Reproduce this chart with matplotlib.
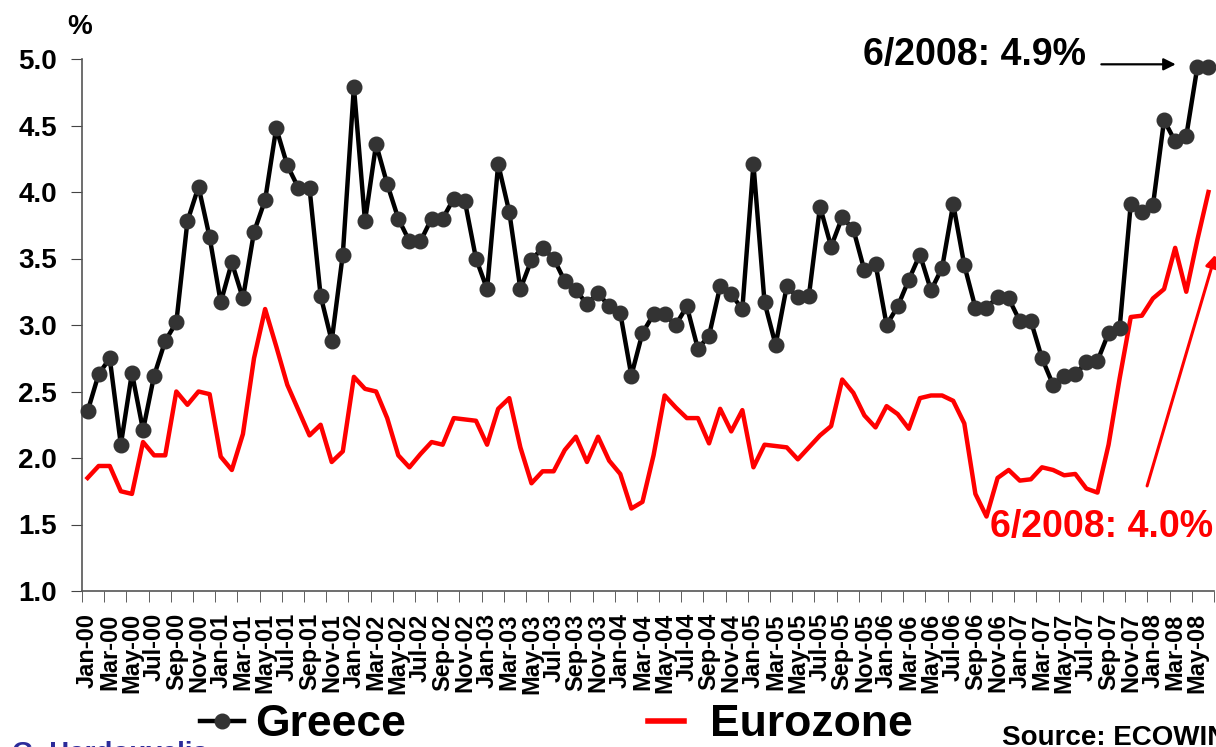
import matplotlib
matplotlib.use("Agg")
import matplotlib.pyplot as plt
from matplotlib.lines import Line2D
import numpy as np

plt.rcParams['font.family'] = ['Liberation Sans', 'DejaVu Sans']

greece = [2.35, 2.63, 2.75, 2.10, 2.64, 2.21, 2.62, 2.88, 3.02, 3.78, 4.04, 3.66,
          3.17, 3.47, 3.20, 3.70, 3.94, 4.48, 4.20, 4.03, 4.03, 3.22, 2.88, 3.53,
          4.79, 3.78, 4.36, 4.06, 3.80, 3.63, 3.63, 3.80, 3.80, 3.95, 3.93, 3.50,
          3.27, 4.21, 3.85, 3.27, 3.49, 3.58, 3.50, 3.33, 3.26, 3.16, 3.24, 3.14,
          3.09, 2.62, 2.94, 3.08, 3.08, 3.00, 3.14, 2.82, 2.92, 3.29, 3.23, 3.12,
          4.21, 3.17, 2.85, 3.29, 3.21, 3.22, 3.89, 3.59, 3.81, 3.72, 3.41, 3.46,
          3.00, 3.14, 3.34, 3.53, 3.26, 3.43, 3.91, 3.45, 3.13, 3.13, 3.21, 3.20,
          3.03, 3.03, 2.75, 2.55, 2.62, 2.63, 2.72, 2.73, 2.94, 2.98, 3.91, 3.85,
          3.90, 4.54, 4.38, 4.42, 4.94, 4.94]

eurozone = [1.85, 1.94, 1.94, 1.75, 1.73, 2.12, 2.02, 2.02, 2.50, 2.40, 2.50, 2.48,
            2.01, 1.91, 2.18, 2.75, 3.12, 2.84, 2.55, 2.36, 2.17, 2.25, 1.97, 2.05,
            2.61, 2.52, 2.50, 2.30, 2.02, 1.93, 2.03, 2.12, 2.10, 2.30, 2.29, 2.28,
            2.10, 2.37, 2.45, 2.08, 1.81, 1.90, 1.90, 2.06, 2.16, 1.97, 2.16, 1.98,
            1.88, 1.62, 1.67, 2.02, 2.47, 2.38, 2.30, 2.30, 2.11, 2.37, 2.20, 2.36,
            1.93, 2.10, 2.09, 2.08, 1.99, 2.08, 2.17, 2.24, 2.59, 2.49, 2.32, 2.23,
            2.39, 2.33, 2.22, 2.45, 2.47, 2.47, 2.43, 2.26, 1.73, 1.56, 1.85, 1.91,
            1.83, 1.84, 1.93, 1.91, 1.87, 1.88, 1.77, 1.74, 2.10, 2.60, 3.06, 3.07,
            3.20, 3.27, 3.58, 3.25, 3.64, 4.00]

tick_labels = ['Jan-00', 'Mar-00', 'May-00', 'Jul-00', 'Sep-00', 'Nov-00',
               'Jan-01', 'Mar-01', 'May-01', 'Jul-01', 'Sep-01', 'Nov-01',
               'Jan-02', 'Mar-02', 'May-02', 'Jul-02', 'Sep-02', 'Nov-02',
               'Jan-03', 'Mar-03', 'May-03', 'Jul-03', 'Sep-03', 'Nov-03',
               'Jan-04', 'Mar-04', 'May-04', 'Jul-04', 'Sep-04', 'Nov-04',
               'Jan-05', 'Mar-05', 'May-05', 'Jul-05', 'Sep-05', 'Nov-05',
               'Jan-06', 'Mar-06', 'May-06', 'Jul-06', 'Sep-06', 'Nov-06',
               'Jan-07', 'Mar-07', 'May-07', 'Jul-07', 'Sep-07', 'Nov-07',
               'Jan-08', 'Mar-08', 'May-08']

x = np.arange(len(greece))

fig = plt.figure(figsize=(12.16, 7.47), dpi=100)
ax = fig.add_axes([82/1216, 1-591/747, 1132/1216, 532/747])

ax.plot(x, eurozone, color='#ff0000', lw=3.2, clip_on=False, zorder=2)
ax.plot(x, greece, color='black', lw=3.2, marker='o', ms=10.5,
        markerfacecolor='#333333', markeredgecolor='#333333', clip_on=False, zorder=3)

ax.set_xlim(-0.5, len(greece) - 0.5)
ax.set_ylim(1.0, 5.0)
ax.set_yticks(np.arange(1.0, 5.01, 0.5))
ax.set_yticklabels(['%.1f' % v for v in np.arange(1.0, 5.01, 0.5)],
                   fontsize=20, fontweight='bold')
ax.set_xticks(x[::2])
ax.set_xticklabels(tick_labels, rotation=90, fontsize=17, fontweight='bold')
ax.set_xticks(np.arange(-0.5, len(greece), 2), minor=True)
ax.tick_params(axis='x', which='major', length=0, pad=16)
ax.tick_params(axis='x', which='minor', length=8, direction='out', color='#444444')
ax.tick_params(axis='y', length=8, direction='out', color='#444444', pad=10)

for s in ['top', 'right']:
    ax.spines[s].set_visible(False)
for s in ['left', 'bottom']:
    ax.spines[s].set_color('#555555')
    ax.spines[s].set_linewidth(1.2)

fig.text(80/1216, 1-27/747, '%', fontsize=20, fontweight='bold', ha='center', va='center')

# annotations
ax.text(90.0, 5.03, '6/2008: 4.9%', fontsize=27, fontweight='bold', ha='right', va='center')
ax.annotate('', xy=(98.3, 4.96), xytext=(91.1, 4.96),
            arrowprops=dict(arrowstyle='-|>', color='black', lw=1.6, mutation_scale=18))
ax.text(81.3, 1.48, '6/2008: 4.0%', fontsize=27, fontweight='bold', ha='left', va='center',
        color='#ff0000')
ax.annotate('', xy=(101.7, 3.55), xytext=(95.4, 1.77),
            arrowprops=dict(arrowstyle='-|>', color='#ff0000', lw=2.2, mutation_scale=18),
            annotation_clip=False)

# legend
g_handle = Line2D([], [], color='black', lw=3.2, marker='o', ms=10.5,
                  markerfacecolor='#333333', markeredgecolor='#333333')
e_handle = Line2D([], [], color='#ff0000', lw=4)
leg1 = fig.legend([g_handle], ['Greece'], loc='center left',
                  bbox_to_anchor=(200/1216, 1-725/747), frameon=False, borderpad=0,
                  borderaxespad=0, handlelength=1.0, handletextpad=0.25,
                  prop={'size': 32, 'weight': 'bold'})
fig.legend([e_handle], ['Eurozone'], loc='center left',
           bbox_to_anchor=(648/1216, 1-725/747), frameon=False, borderpad=0,
           borderaxespad=0, handlelength=0.8, handletextpad=0.6,
           prop={'size': 32, 'weight': 'bold'})

fig.text(1002/1216, 2/747, 'Source: ECOWIN', fontsize=20, fontweight='bold',
         ha='left', va='baseline')
fig.text(12/1216, 6/747, 'G. Hardouvelis', fontsize=20, fontweight='bold',
         ha='left', va='top', color='#2b2b9a')

fig.savefig('out.png', dpi=100)
